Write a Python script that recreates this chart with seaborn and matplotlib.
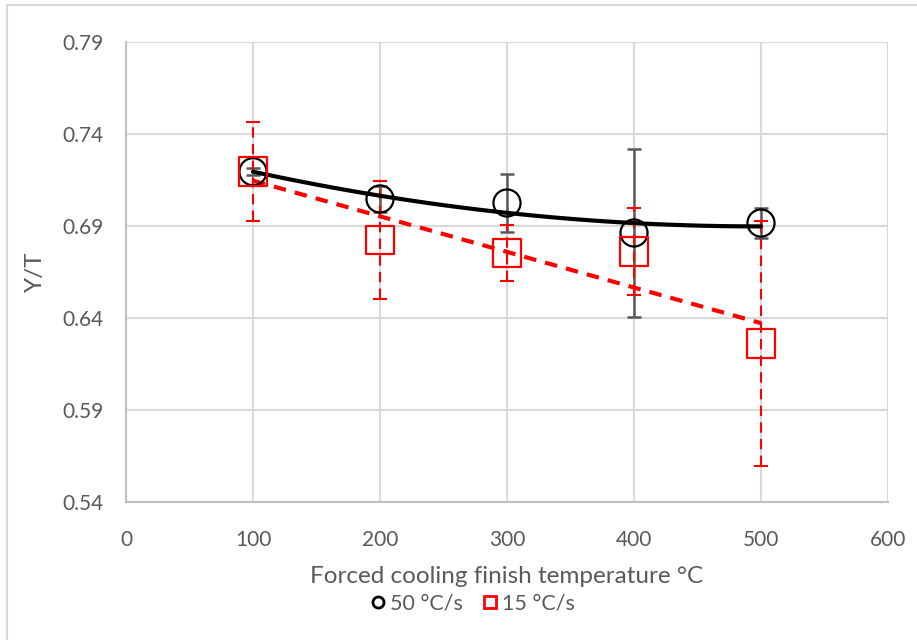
import matplotlib
matplotlib.use("Agg")
import matplotlib.pyplot as plt
from matplotlib.lines import Line2D
import seaborn as sns
import numpy as np
import pandas as pd

# ---- data ----
temps = [100, 200, 300, 400, 500]
yt_50 = [0.7195, 0.7047, 0.7025, 0.6862, 0.6916]
err_50 = [0.002, 0.007, 0.0155, 0.0455, 0.008]
yt_15 = [0.7197, 0.6824, 0.6753, 0.6761, 0.6261]
err_15 = [0.027, 0.032, 0.015, 0.0235, 0.0665]
x_ticks = [0, 100, 200, 300, 400, 500, 600]
y_ticks = [0.54, 0.59, 0.64, 0.69, 0.74, 0.79]
labels = ["50 °C/s", "15 °C/s"]

df50 = pd.DataFrame({"T": temps, "YT": yt_50})
df15 = pd.DataFrame({"T": temps, "YT": yt_15})

sns.set_theme(style="white")
plt.rcParams["font.family"] = ["Lato", "DejaVu Sans"]
TXT = "#595959"

fig = plt.figure(figsize=(9.17, 6.4), dpi=100)
ax = fig.add_axes([126/917, 1-502/640, (888-126)/917, (502-42)/640])

# trendlines
sns.regplot(data=df50, x="T", y="YT", order=2, ci=None, scatter=False, truncate=True,
            ax=ax, line_kws=dict(color="black", lw=3, zorder=4))
sns.regplot(data=df15, x="T", y="YT", order=1, ci=None, scatter=False, truncate=True,
            ax=ax, line_kws=dict(color="#ff0000", lw=3, ls=(0, (3, 2.2)), zorder=4))

# error bars
eb50 = ax.errorbar(temps, yt_50, yerr=err_50, fmt="none", ecolor="#595959",
                   elinewidth=1.8, capsize=5, capthick=1.8, zorder=3)
eb15 = ax.errorbar(temps, yt_15, yerr=err_15, fmt="none", ecolor="#ff0000",
                   elinewidth=1.5, capsize=5, capthick=1.5, zorder=3)
eb15[2][0].set_linestyle((0, (5, 3)))

# markers
sns.scatterplot(data=df50, x="T", y="YT", ax=ax, marker="o", s=380,
                facecolor="none", edgecolor="black", linewidth=1.6, zorder=5)
sns.scatterplot(data=df15, x="T", y="YT", ax=ax, marker="s", s=420,
                facecolor="none", edgecolor="#ff0000", linewidth=1.6, zorder=5)

ax.set_xlim(0, 600)
ax.set_ylim(0.54, 0.79)
ax.set_xticks(x_ticks)
ax.set_yticks(y_ticks)
ax.set_yticklabels([f"{v:.2f}" for v in y_ticks])
ax.grid(True, color="#d9d9d9", lw=1.5)
ax.tick_params(length=0, colors=TXT, labelsize=15)
ax.tick_params(axis="x", pad=20)
ax.tick_params(axis="y", pad=16)
for s in ["top", "right"]:
    ax.spines[s].set_visible(False)
for s in ["left", "bottom"]:
    ax.spines[s].set_color("#bfbfbf")
    ax.spines[s].set_linewidth(1.5)

ax.set_xlabel("Forced cooling finish temperature °C", color=TXT, fontsize=17.5, labelpad=12)
ax.set_ylabel("Y/T", color=TXT, fontsize=17.5, labelpad=12)

handles = [
    Line2D([], [], marker="o", ls="none", markerfacecolor="none", markeredgecolor="black",
           markersize=8, markeredgewidth=2),
    Line2D([], [], marker="s", ls="none", markerfacecolor="none", markeredgecolor="#ff0000",
           markersize=8, markeredgewidth=2),
]
leg = fig.legend(handles, labels, loc="center", bbox_to_anchor=(0.516, 1-604/640), ncol=2,
                 frameon=False, fontsize=15.5, handlelength=0.6, handletextpad=0.25,
                 columnspacing=1.0)
for t in leg.get_texts():
    t.set_color(TXT)

# chart area border
fig.add_artist(Line2D([7/917, 7/917], [0, 1-5/640], transform=fig.transFigure,
                      color="#d9d9d9", lw=1.5))
fig.add_artist(Line2D([7/917, 1], [1-5/640, 1-5/640], transform=fig.transFigure,
                      color="#d9d9d9", lw=1.5))

fig.savefig("out.png", dpi=100, facecolor="white")
